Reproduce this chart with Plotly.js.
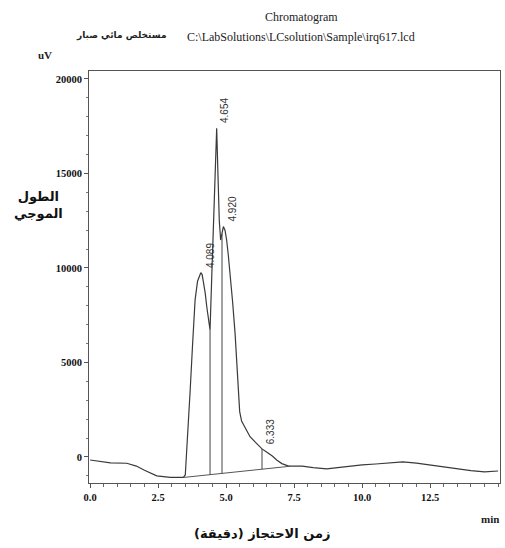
<!DOCTYPE html>
<html>
<head>
<meta charset="utf-8">
<script src="https://cdn.plot.ly/plotly-3.0.1.min.js"></script>
<style>html,body{margin:0;padding:0;background:#fff;}#chart{width:505px;height:548px;}</style>
</head>
<body>
<div id="chart"></div>
<script>
// Chromatogram signal (time in min, signal in uV)
var timeMin = [0, 0.4, 0.75, 1.35, 1.7, 2.0, 2.45, 2.95, 3.43, 3.5, 3.55, 3.62, 3.68, 3.77, 3.86, 3.95, 4.0, 4.07, 4.12, 4.17, 4.23, 4.29, 4.35, 4.41, 4.47, 4.53, 4.6, 4.654, 4.7, 4.75, 4.8, 4.85, 4.9, 4.96, 5.02, 5.08, 5.15, 5.24, 5.33, 5.4, 5.45, 5.5, 5.57, 5.7, 5.88, 6.1, 6.32, 6.5, 6.7, 6.86, 7.05, 7.3, 7.6, 7.8, 8.2, 8.7, 9.1, 9.5, 10.0, 10.5, 11.0, 11.5, 12.0, 12.5, 13.0, 13.5, 14.0, 14.5, 15.0];
var signalUV = [-160, -260, -310, -330, -480, -700, -1000, -1080, -1080, -950, 200, 1800, 3540, 6000, 8300, 9300, 9540, 9750, 9650, 9280, 8700, 7950, 7300, 6720, 9400, 12000, 15000, 17390, 15000, 12500, 11480, 11800, 12190, 12000, 11480, 10700, 9720, 8200, 6540, 4800, 3370, 2400, 1900, 1550, 1075, 750, 430, 250, 50, -160, -350, -480, -500, -480, -560, -630, -560, -480, -420, -370, -300, -260, -320, -420, -520, -630, -720, -790, -740];

// Integration baseline end points
var baselineX = [3.45, 7.35];
var baselineY = [-1080, -490];

// Drop lines (peak boundaries)
var dropX = [4.41, 4.85, 6.32];
var dropTopY = [6720, 11800, 430];

// Peak retention time labels
var peakTimes = [4.089, 4.654, 4.920, 6.333];
var peakHeights = [9750, 17390, 12190, 430];
var peakLabels = ["4.089", "4.654", "4.920", "6.333"];

// Axis ticks
var xTickVals = [0, 2.5, 5, 7.5, 10, 12.5];
var xTickText = ["0.0", "2.5", "5.0", "7.5", "10.0", "12.5"];
var yTickVals = [0, 5000, 10000, 15000, 20000];
var yTickText = ["0", "5000", "10000", "15000", "20000"];

function baseAt(x) {
  var t = (x - baselineX[0]) / (baselineX[1] - baselineX[0]);
  return baselineY[0] + t * (baselineY[1] - baselineY[0]);
}

var lineColor = '#3a3a3a';
var traces = [];
traces.push({x: timeMin, y: signalUV, type: 'scatter', mode: 'lines',
  line: {color: lineColor, width: 1.2}, hoverinfo: 'skip'});
traces.push({x: baselineX, y: baselineY, type: 'scatter', mode: 'lines',
  line: {color: '#555', width: 1}, hoverinfo: 'skip'});
var dx = [], dy = [];
for (var i = 0; i < dropX.length; i++) {
  dx.push(dropX[i], dropX[i], null);
  dy.push(baseAt(dropX[i]), dropTopY[i], null);
}
traces.push({x: dx, y: dy, type: 'scatter', mode: 'lines',
  line: {color: '#444', width: 1}, hoverinfo: 'skip'});

var serif = 'Liberation Serif, Times New Roman, serif';
var arab = 'DejaVu Sans, sans-serif';
var L = 89, R = 500, T = 71, B = 483;
function px(xp) { return (xp - L) / (R - L); }
function py(yp) { return (B - yp) / (B - T); }

var annotations = [];
for (var k = 0; k < peakTimes.length; k++) {
  annotations.push({x: peakTimes[k], y: peakHeights[k], xref: 'x', yref: 'y',
    text: peakLabels[k], showarrow: false, textangle: -90,
    xanchor: 'left', yanchor: 'bottom', xshift: 1, yshift: 3,
    font: {family: 'Liberation Sans, Arial, sans-serif', size: 10, color: '#333'}});
}
annotations.push({x: px(301), y: py(17), xref: 'paper', yref: 'paper', text: 'Chromatogram',
  showarrow: false, xanchor: 'center', yanchor: 'middle', font: {family: serif, size: 12, color: '#222'}});
annotations.push({x: px(301), y: py(37), xref: 'paper', yref: 'paper', text: 'C:\\LabSolutions\\LCsolution\\Sample\\irq617.lcd',
  showarrow: false, xanchor: 'center', yanchor: 'middle', font: {family: serif, size: 12, color: '#222'}});
annotations.push({x: px(121), y: py(35), xref: 'paper', yref: 'paper', text: '<b>مستخلص مائي صبار</b>',
  showarrow: false, xanchor: 'center', yanchor: 'middle', font: {family: arab, size: 9, color: '#222'}});
annotations.push({x: px(45), y: py(55), xref: 'paper', yref: 'paper', text: '<b>uV</b>',
  showarrow: false, xanchor: 'center', yanchor: 'middle', font: {family: serif, size: 11, color: '#222'}});
annotations.push({x: px(490), y: py(519), xref: 'paper', yref: 'paper', text: '<b>min</b>',
  showarrow: false, xanchor: 'center', yanchor: 'middle', font: {family: serif, size: 11, color: '#222'}});
annotations.push({x: px(38), y: py(205), xref: 'paper', yref: 'paper', text: '<b>الطول<br>الموجي</b>',
  showarrow: false, xanchor: 'center', yanchor: 'middle', align: 'center',
  font: {family: arab, size: 13, color: '#111'}});
annotations.push({x: px(262), y: py(533), xref: 'paper', yref: 'paper', text: '<b>زمن الاحتجاز (دقيقة)</b>',
  showarrow: false, xanchor: 'center', yanchor: 'middle',
  font: {family: arab, size: 13, color: '#111'}});

var tickFont = {family: serif, size: 10.5, color: '#111', weight: 'bold'};
var layout = {
  width: 505, height: 548,
  margin: {l: L, r: 505 - R, t: T, b: 548 - B, pad: 0},
  paper_bgcolor: '#fff', plot_bgcolor: '#fff',
  showlegend: false,
  xaxis: {range: [-0.04, 15.07], showgrid: false, zeroline: false,
    showline: true, mirror: true, linecolor: '#555', linewidth: 1,
    ticks: 'outside', ticklen: 4, tickcolor: '#555',
    tickvals: xTickVals, ticktext: xTickText,
    tickfont: tickFont,
    minor: {dtick: 0.5, ticks: 'outside', ticklen: 3, tickcolor: '#666'}},
  yaxis: {range: [-1376, 20423], showgrid: false, zeroline: false,
    showline: true, mirror: true, linecolor: '#555', linewidth: 1,
    ticks: 'outside', ticklen: 4, tickcolor: '#555',
    tickvals: yTickVals, ticktext: yTickText,
    tickfont: tickFont,
    minor: {dtick: 1000, ticks: 'outside', ticklen: 2, tickcolor: '#777'}},
  annotations: annotations
};

Plotly.newPlot('chart', traces, layout, {staticPlot: true, displayModeBar: false});
</script>
</body>
</html>
